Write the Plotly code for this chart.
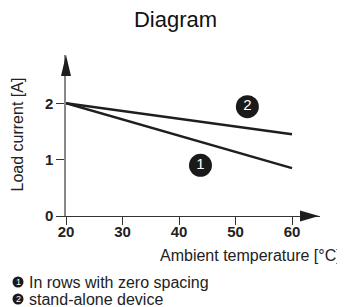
import plotly.graph_objects as go

# ---- data ----
temperature = [20, 60]
current_rows = [2.0, 0.85]        # curve 1: in rows with zero spacing
current_standalone = [2.0, 1.45]  # curve 2: stand-alone device
label_ids = ["1", "2"]
label_x = [43.8, 52.1]
label_y = [0.9, 1.94]
legend_texts = ["In rows with zero spacing", "stand-alone device"]
x_ticks = [20, 30, 40, 50, 60]
y_ticks = [0, 1, 2]

FONT = "Liberation Sans, Arial, Helvetica, sans-serif"
INK = "#1e1e1e"

# the page body adds an 8 px offset; layout is designed in screen pixels
OFF = 8
W, H = 345 - OFF, 307 - OFF
# plot area in screen pixels
SX0, SX1 = 66, 320
SY0, SY1 = 55, 216          # top, bottom (x axis)
ML = SX0 - OFF
MR = W - (SX1 - OFF)
MT = SY0 - OFF
MB = H - (SY1 - OFF)
PW = SX1 - SX0
PH = SY1 - SY0


def px(sx):
    return (sx - SX0) / PW


def py(sy):
    return (SY1 - sy) / PH


fig = go.Figure()
for ys in (current_rows, current_standalone):
    fig.add_trace(go.Scatter(x=temperature, y=ys, mode="lines",
                             line=dict(color=INK, width=2.5),
                             hoverinfo="skip"))

fig.add_trace(go.Scatter(x=label_x, y=label_y, mode="markers+text",
                         text=label_ids, textposition="middle center",
                         marker=dict(size=23, color="#1a1a1a"),
                         textfont=dict(color="white", size=15, family=FONT),
                         cliponaxis=False, hoverinfo="skip"))

shapes = [
    # x-axis arrow head
    dict(type="path", xref="paper", yref="paper",
         path=f"M {px(300)},{py(210.5)} L {px(319)},{py(216)} L {px(300)},{py(221.5)} Z",
         fillcolor=INK, line=dict(width=0)),
    # y-axis arrow head
    dict(type="path", xref="paper", yref="paper",
         path=f"M {px(61)},{py(76)} L {px(66)},{py(55)} L {px(71)},{py(76)} Z",
         fillcolor=INK, line=dict(width=0)),
]
annotations = [
    dict(text="Ambient temperature [°C]", xref="paper", yref="paper",
         x=px(343), y=py(255), xanchor="right", yanchor="middle",
         showarrow=False, font=dict(size=16, color="#222", family=FONT)),
    dict(text="Load current [A]", xref="paper", yref="paper",
         x=px(16.5), y=py(135), xanchor="center", yanchor="middle",
         textangle=-90, showarrow=False,
         font=dict(size=16, color="#222", family=FONT)),
]
legend_rows_y = [282, 299]
for i, (lid, txt) in enumerate(zip(label_ids, legend_texts)):
    yy = legend_rows_y[i]
    shapes.append(dict(type="circle", xref="paper", yref="paper",
                       xsizemode="pixel", ysizemode="pixel",
                       xanchor=px(18), yanchor=py(yy),
                       x0=-5.5, x1=5.5, y0=-5.5, y1=5.5,
                       fillcolor="#1a1a1a", line=dict(width=0)))
    annotations.append(dict(text=lid, xref="paper", yref="paper",
                            x=px(18), y=py(yy), xanchor="center", yanchor="middle",
                            showarrow=False,
                            font=dict(size=9, color="white", family=FONT)))
    annotations.append(dict(text=txt, xref="paper", yref="paper",
                            x=px(27), y=py(yy), xanchor="left", yanchor="middle",
                            showarrow=False,
                            font=dict(size=16, color="#222", family=FONT)))

axis_common = dict(showgrid=False, zeroline=False, ticks="outside", ticklen=8,
                   tickwidth=1.2, tickcolor="#333",
                   tickfont=dict(size=15, color="#222", family=FONT, weight="bold"),
                   fixedrange=True)

fig.update_layout(
    width=W, height=H,
    margin=dict(l=ML, r=MR, t=MT, b=MB, pad=0),
    paper_bgcolor="white", plot_bgcolor="white",
    showlegend=False,
    title=dict(text="Diagram", x=(175.5 - OFF) / W, xanchor="center",
               y=1 - (19 - OFF) / H, yanchor="middle",
               font=dict(size=22, color="#111", family=FONT)),
    xaxis=dict(range=[20, 20 + PW / 5.65], tickvals=x_ticks,
               ticklabelstandoff=-6,
               showline=True, linecolor="#333", linewidth=1.2, **axis_common),
    yaxis=dict(range=[0, PH / 56.35], tickvals=y_ticks,
               showline=True, linecolor="#888", linewidth=1.5, **axis_common),
    shapes=shapes,
    annotations=annotations,
)

fig.write_html("out.html")
